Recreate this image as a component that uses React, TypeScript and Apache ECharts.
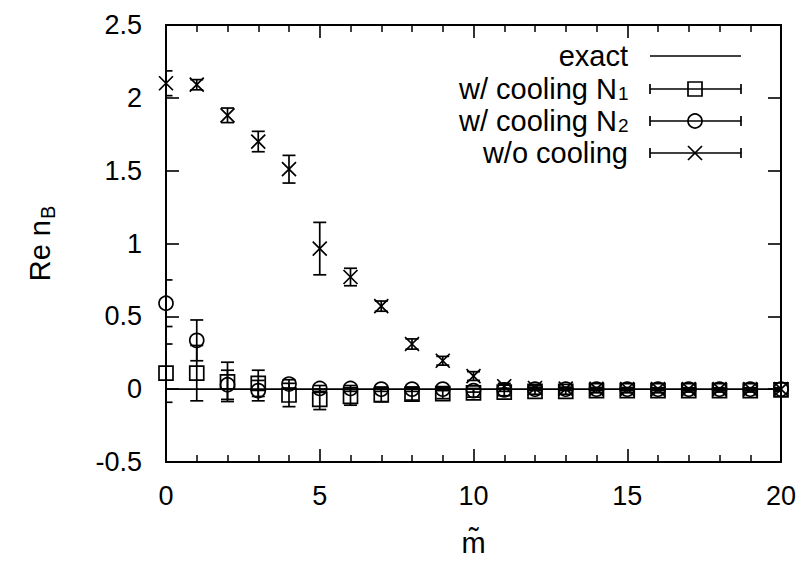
import React, { useEffect, useRef } from "react";
import * as echarts from "echarts";

// m~ values
const mValues = [0, 1, 2, 3, 4, 5, 6, 7, 8, 9, 10, 11, 12, 13, 14, 15, 16, 17, 18, 19, 20];

// exact result
const exactX = [0, 20];
const exactY = [0, 0];

// w/ cooling N1 (squares)
const coolN1 = [0.11, 0.11, 0.05, 0.04, -0.04, -0.07, -0.05, -0.04, -0.035, -0.03, -0.025, -0.02, -0.015, -0.015, -0.01, -0.01, -0.01, -0.01, -0.01, -0.01, -0.005];
const coolN1Err = [0.2, 0.19, 0.135, 0.09, 0.08, 0.07, 0.06, 0.045, 0.04, 0.035, 0.03, 0.025, 0.02, 0.02, 0.015, 0.015, 0.015, 0.01, 0.01, 0.01, 0.01];

// w/ cooling N2 (circles)
const coolN2 = [0.59, 0.335, 0.03, -0.01, 0.035, 0.005, 0.005, 0.0, 0.0, 0.0, -0.01, -0.005, 0.0, 0.0, 0.0, 0.0, 0.0, 0.0, 0.0, 0.0, 0.0];
const coolN2Err = [0.16, 0.14, 0.1, 0.07, 0.03, 0.02, 0.02, 0.015, 0.015, 0.01, 0.01, 0.01, 0.01, 0.01, 0.01, 0.01, 0.01, 0.01, 0.01, 0.01, 0.01];

// w/o cooling (crosses)
const noCool = [2.1, 2.09, 1.88, 1.7, 1.51, 0.965, 0.77, 0.57, 0.31, 0.195, 0.09, 0.02, 0.008, 0.004, 0.002, 0.001, 0.0, 0.0, 0.0, 0.0, 0.0];
const noCoolErr = [0.085, 0.035, 0.05, 0.07, 0.095, 0.18, 0.06, 0.035, 0.035, 0.03, 0.03, 0.02, 0.015, 0.01, 0.01, 0.01, 0.005, 0.005, 0.005, 0.005, 0.005];

const xTicks = { min: 0, max: 20, interval: 5 };
const yTicks = { min: -0.5, max: 2.5, interval: 0.5 };

const legendMain = ["exact", "w/ cooling N", "w/ cooling N", "w/o cooling"];
const legendSub = ["", "1", "2", ""];
const legendMarkers = ["none", "rect", "circle", "cross"];

const FONT = "Liberation Sans";
const BLACK = "#000";
const LW = 1.7;

function errData(vals: number[], errs: number[]) {
  return mValues.map((m, i) => [m, vals[i] - errs[i], vals[i] + errs[i]]);
}
function ptData(vals: number[]) {
  return mValues.map((m, i) => [m, vals[i]]);
}

function errSeries(name: string, vals: number[], errs: number[]) {
  return {
    type: "custom",
    name,
    clip: true,
    data: errData(vals, errs),
    renderItem: (params: any, api: any) => {
      const x = api.value(0);
      const lo = api.value(1);
      const hi = api.value(2);
      const p1 = api.coord([x, hi]);
      const p2 = api.coord([x, lo]);
      const w = 6.5;
      const st = { stroke: BLACK, lineWidth: LW, fill: "none" };
      return {
        type: "group",
        children: [
          { type: "line", shape: { x1: p1[0], y1: p1[1], x2: p2[0], y2: p2[1] }, style: st },
          { type: "line", shape: { x1: p1[0] - w, y1: p1[1], x2: p1[0] + w, y2: p1[1] }, style: st },
          { type: "line", shape: { x1: p2[0] - w, y1: p2[1], x2: p2[0] + w, y2: p2[1] }, style: st },
        ],
      };
    },
    z: 3,
  };
}

function markSeries(name: string, vals: number[], symbol: string, size: number) {
  return {
    type: "scatter",
    name,
    clip: false,
    symbol,
    symbolSize: size,
    data: ptData(vals),
    itemStyle: { color: "rgba(0,0,0,0)", borderColor: BLACK, borderWidth: LW, opacity: 1 },
    z: 4,
  };
}

const CROSS = "path://M0,0L12,12M12,0L0,12";

export default function App() {
  const ref = useRef<HTMLDivElement>(null);
  useEffect(() => {
    if (!ref.current) return;
    const chart = echarts.init(ref.current, undefined, { renderer: "svg" });
    const axisCommon = {
      type: "value",
      axisLine: { show: true, onZero: false, lineStyle: { color: BLACK, width: 2 } },
      axisTick: { show: true, inside: true, length: 13, lineStyle: { color: BLACK, width: 1.6 } },
      splitLine: { show: false },
    };
    const rowY = [56, 89, 121, 153];
    const lx1 = 650, lx2 = 741, lmid = 695, textRight = 628;
    const subW = 11;
    const lst = { stroke: BLACK, lineWidth: LW, fill: "none" };
    const graphics: any[] = [];
    legendMain.forEach((label, i) => {
      const y = rowY[i];
      const marker = legendMarkers[i];
      const sub = legendSub[i];
      graphics.push({
        type: "text",
        x: sub ? textRight - subW : textRight,
        y: y,
        style: {
          text: label,
          align: "right",
          verticalAlign: "middle",
          fill: BLACK,
          fontSize: 29,
          fontFamily: FONT,
        },
      });
      if (sub) {
        graphics.push({
          type: "text",
          x: textRight - subW + 1,
          y: y + 4,
          style: {
            text: sub,
            align: "left",
            verticalAlign: "middle",
            fill: BLACK,
            fontSize: 19,
            fontFamily: FONT,
          },
        });
      }
      graphics.push({ type: "line", shape: { x1: lx1, y1: y, x2: lx2, y2: y }, style: lst });
      if (i > 0) {
        graphics.push({ type: "line", shape: { x1: lx1, y1: y - 5, x2: lx1, y2: y + 5 }, style: lst });
        graphics.push({ type: "line", shape: { x1: lx2, y1: y - 5, x2: lx2, y2: y + 5 }, style: lst });
      }
      if (marker === "rect") {
        graphics.push({ type: "rect", shape: { x: lmid - 7, y: y - 7, width: 14, height: 14 }, style: { stroke: BLACK, lineWidth: LW, fill: "rgba(0,0,0,0)" } });
      } else if (marker === "circle") {
        graphics.push({ type: "circle", shape: { cx: lmid, cy: y, r: 7 }, style: { stroke: BLACK, lineWidth: LW, fill: "rgba(0,0,0,0)" } });
      } else if (marker === "cross") {
        graphics.push({ type: "line", shape: { x1: lmid - 7, y1: y - 7, x2: lmid + 7, y2: y + 7 }, style: lst });
        graphics.push({ type: "line", shape: { x1: lmid - 7, y1: y + 7, x2: lmid + 7, y2: y - 7 }, style: lst });
      }
    });

    chart.setOption({
      animation: false,
      backgroundColor: "#fff",
      textStyle: { fontFamily: FONT },
      grid: { left: 166, right: 24, top: 25, bottom: 92, containLabel: false },
      xAxis: [
        {
          ...axisCommon,
          position: "bottom",
          min: xTicks.min,
          max: xTicks.max,
          interval: xTicks.interval,
          minorTick: { show: true, splitNumber: 5, length: 7, lineStyle: { color: BLACK, width: 1.5 } },
          axisLabel: { fontSize: 27, color: BLACK, margin: 20, fontFamily: FONT },
          name: "m\u0303",
          nameLocation: "middle",
          nameGap: 66,
          nameTextStyle: { fontSize: 29, color: BLACK, fontFamily: FONT },
        },
        {
          ...axisCommon,
          position: "top",
          min: xTicks.min,
          max: xTicks.max,
          interval: xTicks.interval,
          minorTick: { show: true, splitNumber: 5, length: 7, lineStyle: { color: BLACK, width: 1.5 } },
          axisLabel: { show: false },
        },
      ],
      yAxis: [
        {
          ...axisCommon,
          position: "left",
          min: yTicks.min,
          max: yTicks.max,
          interval: yTicks.interval,
          axisLabel: { fontSize: 27, color: BLACK, margin: 24, fontFamily: FONT },
          name: "{a|Re n}{b|B}",
          nameLocation: "middle",
          nameGap: 108,
          nameTextStyle: {
            color: BLACK,
            rich: {
              a: { fontSize: 29, fontFamily: FONT, color: BLACK },
              b: { fontSize: 20, fontFamily: FONT, color: BLACK, padding: [17, 0, 0, 1] },
            },
          },
        },
        {
          ...axisCommon,
          position: "right",
          min: yTicks.min,
          max: yTicks.max,
          interval: yTicks.interval,
          axisLabel: { show: false },
        },
      ],
      series: [
        {
          type: "line",
          name: "exact",
          data: exactX.map((x, i) => [x, exactY[i]]),
          showSymbol: false,
          symbol: "none",
          lineStyle: { color: BLACK, width: 1.8 },
          z: 2,
        },
        errSeries("w/ cooling N1 err", coolN1, coolN1Err),
        markSeries("w/ cooling N1", coolN1, "rect", 14),
        errSeries("w/ cooling N2 err", coolN2, coolN2Err),
        markSeries("w/ cooling N2", coolN2, "circle", 14),
        errSeries("w/o cooling err", noCool, noCoolErr),
        markSeries("w/o cooling", noCool, CROSS, 14),
      ],
      graphic: graphics,
    });
    return () => chart.dispose();
  }, []);
  return <div ref={ref} style={{ width: 805, height: 562, position: "absolute", left: 0, top: 0 }} />;
}
